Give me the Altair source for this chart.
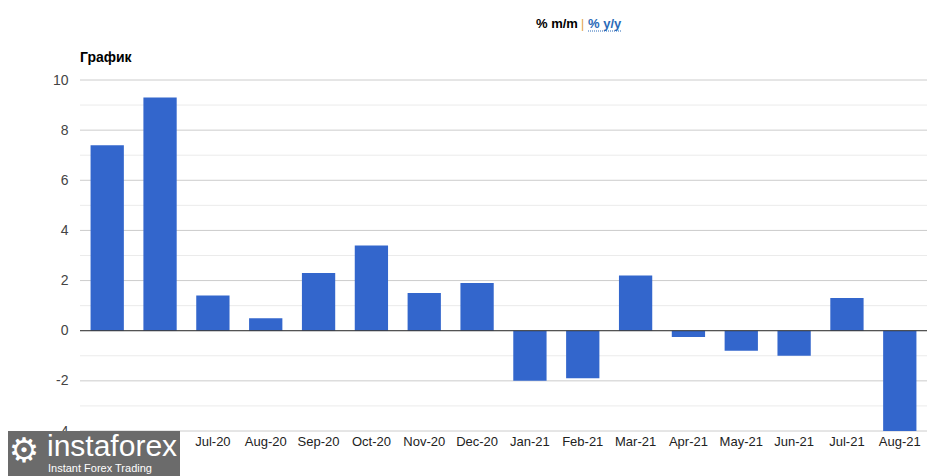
import altair as alt
import pandas as pd

months = ["May-20", "Jun-20", "Jul-20", "Aug-20", "Sep-20", "Oct-20", "Nov-20", "Dec-20",
          "Jan-21", "Feb-21", "Mar-21", "Apr-21", "May-21", "Jun-21", "Jul-21", "Aug-21"]
values = [7.4, 9.3, 1.4, 0.5, 2.3, 3.4, 1.5, 1.9,
          -2.0, -1.9, 2.2, -0.25, -0.8, -1.0, 1.3, -4.0]
major_ticks = [-4, -2, 0, 2, 4, 6, 8, 10]
minor_ticks = [-3, -1, 1, 3, 5, 7, 9]
hidden_labels = ["May-20", "Jun-20"]  # covered by the watermark in the reference

FONT = "Liberation Sans"
W, H = 847, 351

df = pd.DataFrame({"month": months, "value": values})
ydom = alt.Scale(domain=[-4, 10], nice=False, zero=False)
hide_expr = " || ".join([f"datum.value == '{m}'" for m in hidden_labels])
xenc = alt.X("month:N", sort=months,
             scale=alt.Scale(paddingInner=0.37, paddingOuter=0.2),
             axis=alt.Axis(title=None, labelAngle=0, ticks=False, domain=False, grid=False,
                           labelFont=FONT, labelFontSize=13, labelColor="#222222",
                           labelPadding=4, zindex=0,
                           labelExpr=f"({hide_expr}) ? '' : datum.label"))
yaxis = alt.Axis(title=None, values=major_ticks, ticks=False, domain=False, grid=False,
                 labelFont=FONT, labelFontSize=14, labelColor="#444444", labelPadding=12,
                 labelExpr="'' + datum.value")

minor = alt.Chart(pd.DataFrame({"v": minor_ticks})).mark_rule(color="#ebebeb", strokeWidth=1).encode(
    y=alt.Y("v:Q", scale=ydom, axis=yaxis))
major = alt.Chart(pd.DataFrame({"v": major_ticks})).mark_rule(color="#cccccc", strokeWidth=1).encode(
    y=alt.Y("v:Q", scale=ydom, axis=yaxis))

bars = alt.Chart(df).mark_bar(color="#3366CC", clip=True).encode(
    x=xenc,
    y=alt.Y("value:Q", scale=ydom, axis=yaxis),
    y2=alt.datum(0),
)

zero = alt.Chart(pd.DataFrame({"v": [0]})).mark_rule(color="#333333", strokeWidth=1).encode(
    y=alt.Y("v:Q", scale=ydom, axis=yaxis))

title = alt.Chart(pd.DataFrame({"t": ["График"]})).mark_text(
    font=FONT, fontSize=14, fontWeight="bold", color="#000000", align="left", baseline="alphabetic"
).encode(text="t:N", x=alt.value(0), y=alt.value(-18))

hdr1 = alt.Chart(pd.DataFrame({"t": ["% m/m"]})).mark_text(
    font=FONT, fontSize=13, fontWeight="bold", color="#000000", align="left", baseline="alphabetic"
).encode(text="t:N", x=alt.value(456), y=alt.value(-52))
hdr_sep = alt.Chart(pd.DataFrame({"t": ["|"]})).mark_text(
    font=FONT, fontSize=12, color="#e0a040", align="left", baseline="alphabetic"
).encode(text="t:N", x=alt.value(501), y=alt.value(-52))
hdr2 = alt.Chart(pd.DataFrame({"t": ["% y/y"]})).mark_text(
    font=FONT, fontSize=13, fontWeight="bold", color="#2a6ab8", align="left", baseline="alphabetic"
).encode(text="t:N", x=alt.value(508), y=alt.value(-52))
hdr_ul = alt.Chart(pd.DataFrame({"a": [0]})).mark_rule(
    color="#2a6ab8", strokeDash=[1, 1], strokeWidth=1
).encode(x=alt.value(508), x2=alt.value(541), y=alt.value(-49))

wm_box = alt.Chart(pd.DataFrame({"a": [0]})).mark_rect(color="#6b6b6b", clip=False).encode(
    x=alt.value(-80), x2=alt.value(100), y=alt.value(351), y2=alt.value(400))
wm_text = alt.Chart(pd.DataFrame({"t": ["instaforex"]})).mark_text(
    font=FONT, fontSize=30, color="#ffffff", align="left", baseline="alphabetic"
).encode(text="t:N", x=alt.value(-33), y=alt.value(376))
wm_sub = alt.Chart(pd.DataFrame({"t": ["Instant Forex Trading"]})).mark_text(
    font=FONT, fontSize=11, color="#ffffff", align="left", baseline="alphabetic"
).encode(text="t:N", x=alt.value(-32), y=alt.value(392))
wm_icon = alt.Chart(pd.DataFrame({"t": ["⚙"]})).mark_text(
    font="DejaVu Sans", fontSize=34, color="#ffffff", align="center", baseline="middle"
).encode(text="t:N", x=alt.value(-56), y=alt.value(372))

chart = alt.layer(minor, major, bars, zero, title, hdr1, hdr_sep, hdr2, hdr_ul,
                  wm_box, wm_icon, wm_text, wm_sub).properties(
    width=W, height=H,
    padding={"left": 72, "top": 72, "right": 12, "bottom": 50},
    autosize=alt.AutoSizeParams(type="none"),
).configure(background="#ffffff").configure_view(stroke=None)

chart.save("out.html", embed_options={"renderer": "svg", "actions": False})
